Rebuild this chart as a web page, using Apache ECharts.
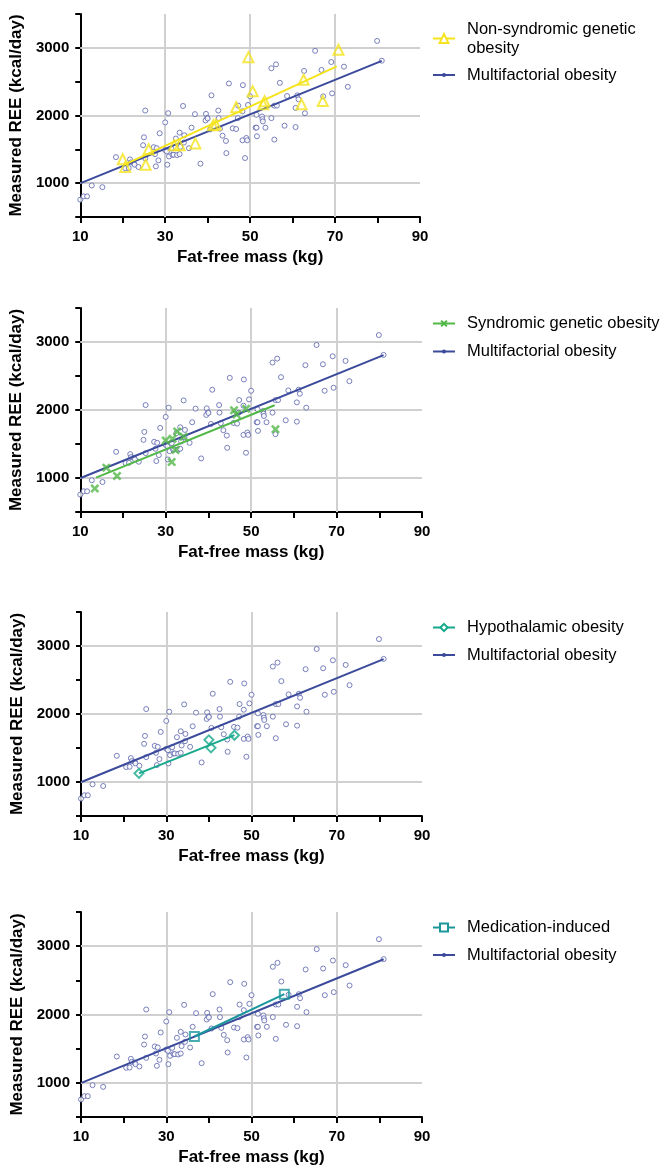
<!DOCTYPE html>
<html>
<head>
<meta charset="utf-8">
<script src="https://cdn.jsdelivr.net/npm/echarts@6/dist/echarts.min.js"></script>
<style>
html,body{margin:0;padding:0;background:#fff;}
#c{width:665px;height:1171px;}
</style>
</head>
<body>
<div id="c"></div>
<script>
// ---------- data ----------
const multifactorial = [
  [10.0,756],[10.8,805],[11.6,805],[12.7,966],[15.2,941],[18.4,1385],[20.6,1220],[21.4,1224],
  [21.7,1351],[21.9,1307],[22.6,1298],[22.8,1273],[23.7,1239],[24.8,1561],[25.0,1678],[25.3,2073],
  [25.3,1366],[27.3,1532],[27.6,1429],[27.8,1249],[28.0,1517],[28.4,1337],[28.7,1737],[30.0,1898],
  [30.0,1488],[30.4,1468],[30.5,1273],[30.7,2034],[30.9,1395],[31.4,1512],[31.7,1420],[32.0,1420],
  [32.5,1659],[32.8,1415],[33.4,1746],[33.4,1429],[33.6,1537],[34.2,2141],[34.5,1707],[34.4,1600],
  [35.6,1517],[36.2,1820],[37.0,2020],[38.3,1288],[39.6,2024],[39.9,1966],[39.5,1927],[40.0,1956],
  [40.6,1795],[40.9,2298],[42.5,2073],[42.6,1961],[42.9,1805],[43.5,1702],[44.3,1624],[44.4,1444],
  [45.0,2473],[45.9,1810],[46.7,1800],[47.2,2146],[47.1,1961],[48.2,2063],[48.3,2449],[48.2,1634],
  [48.8,1371],[49.1,1668],[49.3,1634],[49.5,2156],[50.0,2283],[51.3,1820],[51.5,1820],[51.5,2010],
  [51.6,1693],[52.8,1985],[52.9,1946],[53.0,1912],[53.6,1820],[55.0,2698],[55.0,1961],[55.7,1644],
  [56.1,2756],[55.7,2146],[56.3,2146],[57.0,2483],[58.7,2288],[58.1,1849],[60.7,2112],[60.7,1829],
  [61.1,2298],[61.4,2239],[62.7,2659],[62.9,2034],[65.3,2956],[66.8,2673],[67.2,2283],[69.1,2790],
  [69.3,2327],[72.1,2722],[73.0,2424],[79.9,3102],[81.0,2810]
];
const multifactorialLine = [[10.1,1000],[81.0,2808]];

const nonSyndromic = [
  [20.0,1353],[20.6,1240],[25.4,1272],[26.1,1500],[32.1,1560],[33.4,1562],[37.1,1588],
  [41.3,1855],[41.9,1868],[46.7,2122],[49.6,2862],[50.6,2360],[53.1,2165],[53.4,2210],
  [62.1,2166],[62.6,2529],[67.1,2215],[70.8,2971]
];
const nonSyndromicLine = [[20.3,1270],[70.4,2725]];

const syndromic = [
  [13.4,845],[16.1,1152],[18.6,1029],[30.0,1553],[31.4,1235],[31.6,1578],[32.3,1411],
  [32.7,1685],[34.2,1607],[46.0,1997],[46.6,1934],[48.8,2017],[55.7,1718]
];
const syndromicLine = [[13.7,1006],[55.5,2070]];

const hypothalamic = [[23.6,1127],[40.0,1620],[40.5,1502],[46.0,1688]];
const hypothalamicLine = [[23.6,1127],[46.0,1690]];

const medication = [[36.6,1678],[57.7,2298]];
const medicationLine = [[36.6,1678],[57.7,2298]];

const xTicks = {min:10, max:90, step:10};
const yTicks = {min:500, max:3500, step:500};
const gridX = [30,50,70];
const gridY = [1000,2000,3000];
const xTitle = 'Fat-free mass (kg)';
const yTitle = 'Measured REE (kcal/day)';
const multiName = 'Multifactorial obesity';

// ---------- styling / layout ----------
const FONT = 'Liberation Sans, Arial, sans-serif';
const NAVY = '#3b4a9b';
const NAVY_PT = '#5962ab';
const XSHAPE = 'path://M0,2 L2,0 L5,3 L8,0 L10,2 L7,5 L10,8 L8,10 L5,7 L2,10 L0,8 L3,5 Z';

const panels = [
  {name:'Non-syndromic genetic obesity', label:'Non-syndromic genetic\nobesity', pts:nonSyndromic, line:nonSyndromicLine,
   color:'#f5e31c', symbol:'triangle', size:10, filled:false, legSize:11,
   grid:{left:80, top:14, width:340, height:203}, leg1:19.5, leg2:65.5},
  {name:'Syndromic genetic obesity', label:'Syndromic genetic obesity', pts:syndromic, line:syndromicLine,
   color:'#52b848', symbol:XSHAPE, size:9, filled:true, legSize:9,
   grid:{left:80, top:308, width:342, height:204}, leg1:314, leg2:342},
  {name:'Hypothalamic obesity', label:'Hypothalamic obesity', pts:hypothalamic, line:hypothalamicLine,
   color:'#17a98b', symbol:'diamond', size:9, filled:false, legSize:9,
   grid:{left:81, top:612, width:341, height:204}, leg1:618, leg2:645.5},
  {name:'Medication-induced', label:'Medication-induced', pts:medication, line:medicationLine,
   color:'#1b979c', symbol:'rect', size:9, filled:false, legSize:10,
   grid:{left:81, top:912, width:341, height:205}, leg1:918, leg2:945.5}
];

const grids = [], xAxes = [], yAxes = [], series = [], legends = [];

panels.forEach((p, i) => {
  grids.push(Object.assign({containLabel:false}, p.grid));
  xAxes.push({
    type:'value', gridIndex:i, min:xTicks.min, max:xTicks.max, interval:xTicks.step,
    name:xTitle, nameLocation:'middle', nameGap:32,
    nameTextStyle:{fontFamily:FONT, fontWeight:'bold', fontSize:17, color:'#000'},
    axisLine:{show:true, onZero:false, lineStyle:{color:'#000', width:2}},
    axisTick:{show:true, length:6, lineStyle:{color:'#000', width:2}},
    axisLabel:{fontFamily:FONT, fontWeight:'bold', fontSize:15, color:'#000', margin:12,
      formatter:v => ((v - xTicks.min) % 20 === 0 ? String(v) : '')},
    splitLine:{show:false}
  });
  yAxes.push({
    type:'value', gridIndex:i, min:yTicks.min, max:yTicks.max, interval:yTicks.step,
    name:yTitle, nameLocation:'middle', nameGap:49, nameRotate:90,
    nameTextStyle:{fontFamily:FONT, fontWeight:'bold', fontSize:17, color:'#000'},
    axisLine:{show:true, onZero:false, lineStyle:{color:'#000', width:2}},
    axisTick:{show:true, length:5, lineStyle:{color:'#000', width:2}},
    axisLabel:{fontFamily:FONT, fontWeight:'bold', fontSize:15, color:'#000', margin:11,
      formatter:v => (v % 1000 === 0 ? String(v) : '')},
    splitLine:{show:false}
  });

  const gridMarks = gridY.map(v => ({yAxis:v})).concat(gridX.map(v => ({xAxis:v})));

  series.push({
    type:'scatter', name:'mf-points-' + i, xAxisIndex:i, yAxisIndex:i, z:2,
    data:multifactorial, symbol:'circle', symbolSize:5,
    itemStyle:{color:'#fff', borderColor:NAVY_PT, borderWidth:1},
    emphasis:{disabled:true}, silent:true,
    markLine:{silent:true, z:1, symbol:['none','none'], label:{show:false},
      lineStyle:{color:'#d0d0d0', width:2, type:'solid'}, emphasis:{disabled:true},
      data:gridMarks}
  });
  series.push({
    type:'line', name:multiName, xAxisIndex:i, yAxisIndex:i, z:3,
    data:multifactorialLine.map(d => ({value:d, symbol:'none'})),
    symbol:'circle', symbolSize:4, showSymbol:true,
    lineStyle:{color:NAVY, width:2}, itemStyle:{color:NAVY},
    emphasis:{disabled:true}, silent:true
  });
  series.push({
    type:'scatter', name:'sub-points-' + i, xAxisIndex:i, yAxisIndex:i, z:5,
    data:p.pts, symbol:p.symbol, symbolSize:p.size,
    itemStyle: p.filled ? {color:p.color} : {color:'rgba(255,255,255,0)', borderColor:p.color, borderWidth:2},
    emphasis:{disabled:true}, silent:true
  });
  series.push({
    type:'line', name:p.name, xAxisIndex:i, yAxisIndex:i, z:4,
    data:p.line.map(d => ({value:d, symbol:'none'})),
    symbol: p.filled ? p.symbol : 'empty' + (p.symbol.charAt(0).toUpperCase() + p.symbol.slice(1)),
    symbolSize:p.size, showSymbol:true,
    lineStyle:{color:p.color, width:2}, itemStyle:{color:p.color},
    emphasis:{disabled:true}, silent:true
  });

  const common = {
    orient:'vertical', left:432, padding:0, itemWidth:22, selectedMode:false,
    textStyle:{fontFamily:FONT, fontSize:16.5, color:'#000', lineHeight:19, padding:[0,0,0,7]}
  };
  legends.push(Object.assign({}, common, {
    top:p.leg1, itemHeight:p.legSize, data:[p.name],
    formatter:() => p.label
  }));
  legends.push(Object.assign({}, common, {
    top:p.leg2, itemHeight:5, data:[multiName]
  }));
});

const chart = echarts.init(document.getElementById('c'), null, {renderer:'canvas'});
chart.setOption({
  animation:false,
  backgroundColor:'#fff',
  grid:grids, xAxis:xAxes, yAxis:yAxes, legend:legends, series:series
});
</script>
</body>
</html>
